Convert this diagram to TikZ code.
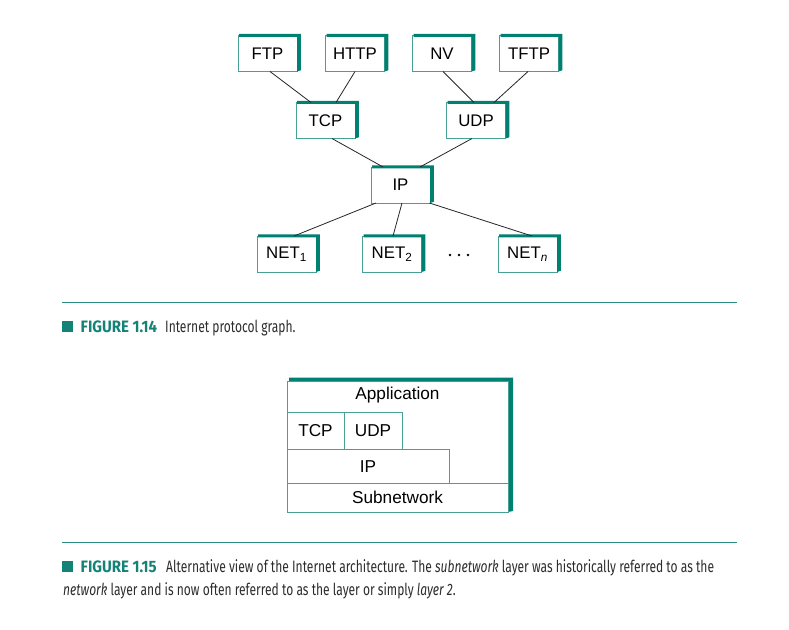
\documentclass[tikz,border=0pt]{standalone}
\usepackage{fontspec}
\setmainfont{Liberation Sans}
\newfontfamily\capfont[FakeStretch=0.73]{Fira Sans}
\newfontfamily\capbf[FakeStretch=0.91]{Fira Sans}
\definecolor{dteal}{RGB}{0,128,112}
\definecolor{lteal}{RGB}{70,160,148}
\definecolor{rteal}{RGB}{40,140,128}
\definecolor{capteal}{RGB}{20,130,118}
\definecolor{capgray}{RGB}{45,45,45}
\tikzset{
  pbox/.style={draw=lteal, line width=0.9pt, fill=white, minimum width=59pt, minimum height=36pt,
    inner sep=0pt, outer sep=0pt, font=\fontsize{16.8}{18}\selectfont},
  link/.style={draw=black!85, line width=0.8pt},
  band/.style={fill=dteal},
  layer/.style={draw=lteal, line width=0.9pt},
  ltext/.style={inner sep=0pt, font=\fontsize{17.2}{19}\selectfont},
  captext/.style={inner sep=0pt, anchor=base west, font=\capfont\fontsize{16.5}{24}\selectfont, text=capgray},
  figlabel/.style={inner sep=0pt, anchor=base west, font=\capbf\bfseries\fontsize{16.5}{24}\selectfont, text=capteal},
  rulestyle/.style={draw=rteal, line width=0.9pt}
}
\newcommand{\bandon}[1]{%
  \fill[band] ([shift={(1.2pt,1.6pt)}]#1.north west) -- ([shift={(3.8pt,1.6pt)}]#1.north east)
    -- ([shift={(3.8pt,1.2pt)}]#1.south east) -- (#1.south east)
    -- ([shift={(0pt,-1.4pt)}]#1.north east) -- ([shift={(1.2pt,-1.4pt)}]#1.north west) -- cycle;}
\begin{document}
\begin{tikzpicture}[x=1pt,y=-1pt]
\useasboundingbox[fill=white] (0,0) rectangle (789,629);
% Figure 1.14
\node[pbox] (ftp)  at (267.5,53.5) {FTP};
\node[pbox] (http) at (355,53.5) {HTTP};
\node[pbox] (nv)   at (442,53.5) {NV};
\node[pbox] (tftp) at (529,53.5) {TFTP};
\node[pbox] (tcp)  at (325.5,120.5) {TCP};
\node[pbox] (udp)  at (476,120.5) {UDP};
\node[pbox] (ip)   at (400.5,185) {IP};
\node[pbox] (net1) at (286.5,254) {NET\textsubscript{1}};
\node[pbox] (net2) at (392,254) {NET\textsubscript{2}};
\node[pbox] (netn) at (527.5,254) {NET\textsubscript{\itshape n}};
\foreach \n in {ftp,http,nv,tftp,tcp,udp,ip,net1,net2,netn} {\bandon{\n}}
\draw[link] ([xshift=2.5pt]ftp.south) -- ([xshift=-14.5pt]tcp.north);
\draw[link] (http.south) -- ([xshift=10.5pt]tcp.north);
\draw[link] ([xshift=1pt]nv.south) -- ([xshift=-2pt]udp.north);
\draw[link] ([xshift=-1pt]tftp.south) -- ([xshift=18pt]udp.north);
\draw[link] ([xshift=6.5pt]tcp.south) -- ([xshift=-17.5pt]ip.north);
\draw[link] ([xshift=-4pt]udp.south) -- ([xshift=19.5pt]ip.north);
\draw[link] ([xshift=-24.5pt]ip.south) -- ([xshift=7.5pt]net1.north);
\draw[link] ([xshift=1.5pt]ip.south) -- ([xshift=1pt]net2.north);
\draw[link] ([xshift=29pt]ip.south) -- ([xshift=4.5pt]netn.north);
\foreach \x in {450,459,468} {\fill[black] (\x,255) circle (1.4pt);}
% rule + caption 1
\draw[rulestyle] (62,302) -- (737,302);
\fill[capteal] (62,321) rectangle (73,332);
\node[figlabel] (fig14) at (80.5,332) {FIGURE 1.14};
\node[captext] (cap14) at (165,332) {Internet protocol graph.};
% Figure 1.15
\fill[band] (289,377.5) -- (513,377.5) -- (513,511) -- (508,512) -- (508,381) -- (289,381) -- cycle;
\draw[layer] (287,381) rectangle (508,512);
\draw[layer] (287,412) -- (402,412) -- (402,449);
\draw[layer] (344,412) -- (344,449);
\draw[layer] (287,449) -- (449,449) -- (449,483);
\draw[layer] (287,483) -- (508,483);
\node[ltext] (lapp) at (397.5,395) {Application};
\node[ltext] (ltcp) at (315.5,431) {TCP};
\node[ltext] (ludp) at (373,431) {UDP};
\node[ltext] (lip)  at (368,466.5) {IP};
\node[ltext] (lsub) at (397.5,497.5) {Subnetwork};
% rule + caption 2
\draw[rulestyle] (62,542) -- (737,542);
\fill[capteal] (62,561) rectangle (73,572);
\node[figlabel] (fig15) at (80.5,572) {FIGURE 1.15};
\node[captext] (cap15a) at (166,572) {Alternative view of the Internet architecture. The {\itshape subnetwork} layer was historically referred to as the};
\node[captext] (cap15b) at (63,595) {{\itshape network} layer and is now often referred to as the layer or simply {\itshape layer 2}.};
\end{tikzpicture}
\end{document}
